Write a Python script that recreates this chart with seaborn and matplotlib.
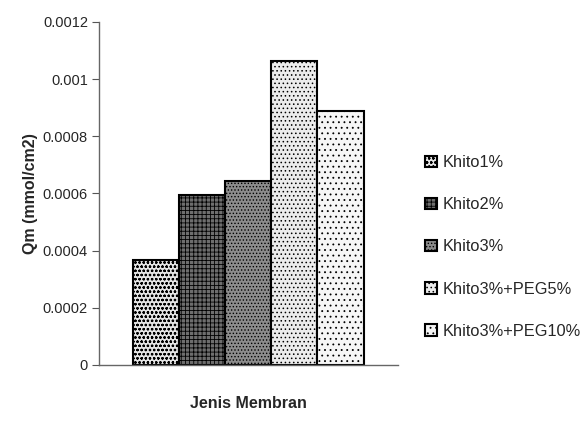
import matplotlib
matplotlib.use("Agg")
import matplotlib.pyplot as plt
import seaborn as sns
import pandas as pd
from matplotlib.ticker import MultipleLocator, FuncFormatter

membran = ["Khito1%", "Khito2%", "Khito3%", "Khito3%+PEG5%", "Khito3%+PEG10%"]
qm = [0.000367, 0.000594, 0.000644, 0.001065, 0.000889]

face_colors = ["#e4e4e4", "#6e6e6e", "#8c8c8c", "#ececec", "#f6f6f6"]
hatches = ["oooo", "++++", ".....", "....", "..."]

sns.set_theme(style="white")
plt.rcParams["font.family"] = ["Liberation Sans", "DejaVu Sans"]
plt.rcParams["hatch.linewidth"] = 0.6

df = pd.DataFrame({"grup": [""] * len(membran), "Membran": membran, "Qm": qm})

fig = plt.figure(figsize=(5.8, 4.37), dpi=100)
ax = fig.add_axes([0.1707, 0.1648, 0.686 - 0.1707, 0.9497 - 0.1648])

sns.barplot(data=df, x="grup", y="Qm", hue="Membran", hue_order=membran,
            palette=face_colors, edgecolor="black", linewidth=1.5,
            width=0.77, saturation=1, legend=False, ax=ax)

for cont, h in zip(ax.containers, hatches):
    for bar in cont:
        bar.set_hatch(h)

ax.set_ylim(0, 0.0012)
ax.yaxis.set_major_locator(MultipleLocator(0.0002))
ax.yaxis.set_major_formatter(FuncFormatter(
    lambda v, p: ("%.4f" % v).rstrip("0").rstrip(".")))
ax.tick_params(axis="y", which="major", direction="out", length=5, width=0.8,
               color="#555555", labelsize=10.5, pad=3, left=True)
ax.tick_params(axis="x", bottom=False, labelbottom=False)

for side in ["top", "right"]:
    ax.spines[side].set_visible(False)
for side in ["left", "bottom"]:
    ax.spines[side].set_color("#666666")
    ax.spines[side].set_linewidth(1.0)

ax.set_ylabel("Qm (mmol/cm2)", fontsize=11.5, fontweight="bold")
ax.yaxis.set_label_coords(-0.205, 0.5)
ax.set_xlabel("Jenis Membran", fontsize=11.5, fontweight="bold", labelpad=22)

handles = [c[0] for c in ax.containers]
fig.legend(handles, membran, loc="center left", bbox_to_anchor=(0.722, 0.435),
           frameon=False, fontsize=11.8, handlelength=0.7, handleheight=0.7,
           handletextpad=0.35, labelspacing=1.66, borderaxespad=0)

fig.savefig("out.png", dpi=100)
